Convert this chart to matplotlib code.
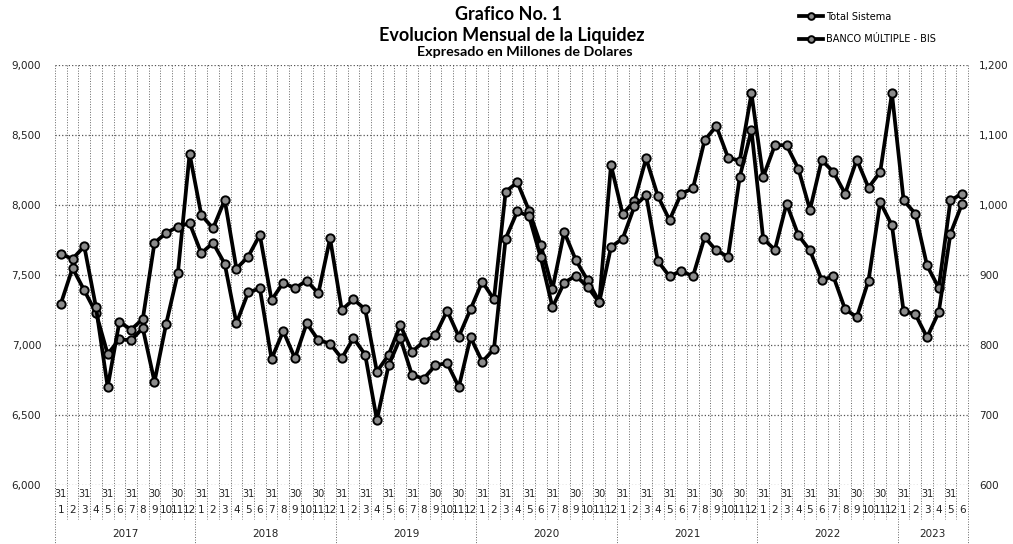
import matplotlib
matplotlib.use("Agg")
import matplotlib.pyplot as plt
from matplotlib.lines import Line2D
from matplotlib.transforms import blended_transform_factory

# months Jan 2017 - Jun 2023
years = [2017, 2018, 2019, 2020, 2021, 2022, 2023]
months = list(range(1, 13)) * 6 + list(range(1, 7))
day_labels = {1: "31", 3: "31", 5: "31", 7: "31", 9: "30", 11: "30"}

# left axis (millones US$)
total_sistema = [7295, 7550, 7390, 7230, 6935, 7040, 7035, 7120, 6738, 7152, 7515, 8365,
                 7929, 7833, 8036, 7545, 7631, 7786, 7321, 7445, 7405, 7460, 7369, 7762,
                 7250, 7326, 7255, 6810, 6929, 7143, 6952, 7024, 7071, 7245, 7060, 7255,
                 7452, 7326, 8095, 8162, 7960, 7715, 7400, 7808, 7606, 7462, 7308, 8285,
                 7933, 8030, 8333, 8065, 7892, 8082, 8118, 8463, 8563, 8339, 8316, 8797,
                 8200, 8427, 8427, 8260, 7966, 8320, 8236, 8081, 8324, 8124, 8236, 8797,
                 8033, 7938, 7568, 7408, 8033, 8081]

# right axis
banco_multiple = [930, 923, 941, 854, 740, 833, 822, 837, 946, 960, 969, 974,
                  931, 946, 916, 831, 875, 881, 780, 820, 781, 831, 807, 802,
                  781, 810, 786, 693, 771, 810, 757, 752, 771, 774, 740, 811,
                  776, 794, 952, 991, 984, 925, 854, 889, 899, 883, 861, 940,
                  952, 998, 1014, 920, 898, 906, 898, 954, 935, 926, 1040, 1107,
                  952, 936, 1002, 957, 935, 893, 898, 851, 840, 892, 1004, 971,
                  848, 844, 811, 847, 959, 1002]

left_ticks = [6000, 6500, 7000, 7500, 8000, 8500, 9000]
right_ticks = [600, 700, 800, 900, 1000, 1100, 1200]

W, H = 1013, 544
fig = plt.figure(figsize=(W / 100, H / 100), dpi=100)
ax = fig.add_axes([55 / W, 1 - 485 / H, (968 - 55) / W, (485 - 65) / H])
ax2 = ax.twinx()

x = list(range(len(months)))
style = dict(color="black", lw=2.7, marker="o", ms=6, mfc="#8c8c8c", mec="black", mew=1.4)
ax.plot(x, total_sistema, zorder=3, **style)
ax2.plot(x, banco_multiple, zorder=3, **style)

ax.set_xlim(-0.5, len(months) - 0.5)
ax.set_ylim(6000, 9000)
ax2.set_ylim(600, 1200)
ax.set_yticks(left_ticks)
ax.set_yticklabels([f"{v:,}" for v in left_ticks])
ax2.set_yticks(right_ticks)
ax2.set_yticklabels([f"{v:,}" for v in right_ticks])
ax.set_xticks([])
for a in (ax, ax2):
    for s in a.spines.values():
        s.set_visible(False)
    a.tick_params(axis="y", length=0, labelsize=7.5, colors="#222222")
ax.tick_params(axis="y", pad=10)
ax2.tick_params(axis="y", pad=8)
ax.grid(axis="y", ls=":", lw=0.9, color="#555555")

# vertical separators (plot + label area)
tr = blended_transform_factory(ax.transData, fig.transFigure)
for i in range(len(months) + 1):
    xb = i - 0.5
    is_year = (i % 12 == 0) or i == len(months)
    y_end = 544 if is_year else 519
    ax.plot([xb, xb], [1 - 65 / H, 1 - y_end / H], transform=tr, clip_on=False,
            ls=":", lw=0.7, color="#666666", zorder=1)

# x labels
for i, m in enumerate(months):
    if m in day_labels:
        ax.text(i, 1 - 494 / H, day_labels[m], transform=tr, ha="center", va="center",
                fontsize=7, color="#222222")
    ax.text(i, 1 - 510 / H, str(m), transform=tr, ha="center", va="center",
            fontsize=7.5, color="#222222")
for k, yr in enumerate(years):
    n = sum(1 for j in range(len(months)) if j // 12 == k)
    ax.text(k * 12 + (n - 1) / 2, 1 - 534 / H, str(yr), transform=tr, ha="center",
            va="center", fontsize=7.5, color="#222222")

# titles
fig.text(508 / W, 1 - 15 / H, "Grafico No. 1", ha="center", va="center",
         fontsize=13, fontweight="bold", family="Lato")
fig.text(512 / W, 1 - 35 / H, "Evolucion Mensual de la Liquidez", ha="center", va="center",
         fontsize=13, fontweight="bold", family="Lato")
fig.text(525 / W, 1 - 52 / H, "Expresado en Millones de Dolares", ha="center", va="center",
         fontsize=10.3, fontweight="bold", family="Lato")

handles = [Line2D([], [], **style), Line2D([], [], **style)]
fig.legend(handles, ["Total Sistema", "BANCO MÚLTIPLE - BIS"], loc="upper left",
           bbox_to_anchor=(790 / W, 1 - 3 / H), frameon=False, fontsize=7,
           labelspacing=1.3, handlelength=2.5, handletextpad=0.3, markerscale=0.8)

fig.savefig("out.png", dpi=100)
